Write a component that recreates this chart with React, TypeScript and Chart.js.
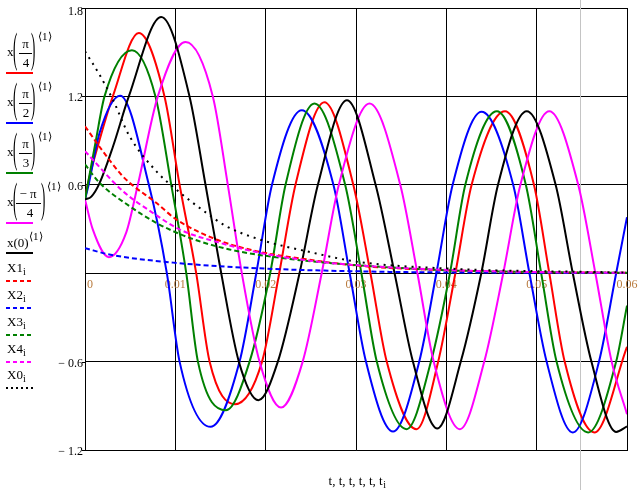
import React, { useEffect, useRef } from "react";
import { Chart, registerables } from "chart.js";
Chart.register(...registerables);

const SERIF = '"Liberation Serif", "Times New Roman", serif';
const W = 643;
const H = 490;

// ---- x(π/4)  (red, solid)
const xPi4T = [0, 0.0003, 0.0015, 0.00308, 0.00596, 0.0088, 0.01047, 0.01231, 0.01379, 0.0166, 0.0196, 0.0215, 0.0233, 0.0265, 0.0297, 0.0316, 0.0334, 0.0367, 0.0391, 0.041, 0.0428, 0.0465, 0.0497, 0.0514, 0.0531, 0.0564, 0.06];
const xPi4V = [0.5, 0.6, 0.88, 1.2, 1.63, 1.2, 0.6, 0, -0.6, -0.889, -0.6, 0, 0.6, 1.16, 0.6, 0, -0.6, -1.059, -0.6, 0, 0.6, 1.099, 0.6, 0, -0.6, -1.081, -0.5];

// ---- x(π/2)  (blue, solid)
const xPi2T = [0, 0.0004, 0.0016, 0.0039, 0.00707, 0.00906, 0.01047, 0.0139, 0.01711, 0.01896, 0.0207, 0.024, 0.0275, 0.0293, 0.0311, 0.0341, 0.037, 0.0389, 0.0407, 0.0439, 0.0474, 0.0492, 0.0511, 0.054, 0.0569, 0.0588, 0.06];
const xPi2V = [0.5, 0.6, 0.95, 1.205, 0.6, 0, -0.6, -1.043, -0.6, 0, 0.6, 1.106, 0.6, 0, -0.6, -1.075, -0.6, 0, 0.6, 1.095, 0.6, 0, -0.6, -1.081, -0.6, 0, 0.38];

// ---- x(π/3)  (green, solid)
const xPi3T = [0, 0.0003, 0.0012, 0.00216, 0.0052, 0.0078, 0.00955, 0.01121, 0.0125, 0.0156, 0.01822, 0.0205, 0.0222, 0.0254, 0.0288, 0.0306, 0.0323, 0.0356, 0.0383, 0.0404, 0.0421, 0.0456, 0.0488, 0.0505, 0.0522, 0.0557, 0.0588, 0.06];
const xPi3V = [0.5, 0.6, 0.9, 1.2, 1.513, 1.2, 0.6, 0, -0.6, -0.93, -0.6, 0, 0.6, 1.151, 0.6, 0, -0.6, -1.059, -0.6, 0, 0.6, 1.099, 0.6, 0, -0.6, -1.081, -0.6, -0.22];

// ---- x(−π/4)  (magenta, solid)
const xMPi4T = [0, 0.00086, 0.00264, 0.00456, 0.00585, 0.00806, 0.01113, 0.01415, 0.01581, 0.01736, 0.01932, 0.0217, 0.0241, 0.0262, 0.0281, 0.0315, 0.0349, 0.0368, 0.0386, 0.0415, 0.0442, 0.0463, 0.0482, 0.0514, 0.0546, 0.0565, 0.0583, 0.06];
const xMPi4V = [0.5, 0.297, 0.109, 0.275, 0.6, 1.2, 1.569, 1.2, 0.6, 0, -0.6, -0.912, -0.6, 0, 0.6, 1.151, 0.6, 0, -0.6, -1.059, -0.6, 0, 0.6, 1.099, 0.6, 0, -0.6, -0.957];

// ---- x(0)  (black, solid)
const x0T = [0, 0.0007, 0.0016, 0.0031, 0.00485, 0.00844, 0.01157, 0.01334, 0.01508, 0.01703, 0.0192, 0.02135, 0.02375, 0.02578, 0.029, 0.03217, 0.03427, 0.0363, 0.039, 0.0416, 0.04387, 0.04572, 0.0489, 0.0521, 0.054, 0.05606, 0.0588, 0.06];
const x0V = [0.5, 0.52, 0.61, 0.86, 1.2, 1.739, 1.2, 0.6, 0, -0.6, -0.862, -0.6, 0, 0.6, 1.174, 0.6, 0, -0.6, -1.054, -0.6, 0, 0.6, 1.099, 0.6, 0, -0.6, -1.077, -1.04];

// ---- decaying components
const X1T = [0, 0.00197, 0.004, 0.00493, 0.00788, 0.0101, 0.01453, 0.01896, 0.0245, 0.03076, 0.04, 0.05, 0.06];
const X1V = [0.997, 0.828, 0.67, 0.614, 0.478, 0.365, 0.229, 0.15, 0.094, 0.048, 0.02, 0.007, 0.003];
const X2T = [0, 0.0027, 0.0099, 0.0193, 0.0326, 0.045, 0.06];
const X2V = [0.17, 0.127, 0.071, 0.033, 0.01, 0.004, 0.001];
const X3T = [0, 0.0016, 0.00493, 0.00788, 0.01157, 0.016, 0.02154, 0.02893, 0.04, 0.05, 0.06];
const X3V = [0.738, 0.614, 0.455, 0.342, 0.24, 0.161, 0.105, 0.06, 0.02, 0.008, 0.003];
const X4T = [0, 0.00419, 0.0075, 0.01047, 0.01489, 0.01932, 0.02523, 0.0326, 0.042, 0.05, 0.06];
const X4V = [0.828, 0.557, 0.41, 0.297, 0.207, 0.139, 0.082, 0.044, 0.018, 0.008, 0.003];
const X0T = [0, 0.0016, 0.00308, 0.00493, 0.00806, 0.0101, 0.01342, 0.01563, 0.01932, 0.02523, 0.02966, 0.0326, 0.03704, 0.045, 0.05, 0.06];
const X0V = [1.506, 1.348, 1.178, 0.93, 0.681, 0.568, 0.41, 0.319, 0.229, 0.139, 0.082, 0.06, 0.041, 0.02, 0.014, 0.005];

// ---- ticks / labels
const xTickValues = [0, 0.01, 0.02, 0.03, 0.04, 0.05, 0.06];
const xTickLabels = ["0", "0.01", "0.02", "0.03", "0.04", "0.05", "0.06"];
const yTickValues = [1.8, 1.2, 0.6, -0.6, -1.2];
const yTickLabels = ["1.8", "1.2", "0.6", "\u2212 0.6", "\u2212 1.2"];
const xAxisTitle = "t, t, t, t, t, t";
const xAxisTitleSub = "i";

const RED = "#ff0000";
const BLUE = "#0000ff";
const GREEN = "#008000";
const MAGENTA = "#ff00ff";
const BLACK = "#000000";
const X_LABEL_COLOR = "#b87a3c";
const DASH = [5, 3];
const DOT = [2, 5];

const series = [
  { t: xPi4T, v: xPi4V, color: RED, dash: [] as number[] },
  { t: xPi2T, v: xPi2V, color: BLUE, dash: [] as number[] },
  { t: xPi3T, v: xPi3V, color: GREEN, dash: [] as number[] },
  { t: xMPi4T, v: xMPi4V, color: MAGENTA, dash: [] as number[] },
  { t: x0T, v: x0V, color: BLACK, dash: [] as number[] },
  { t: X1T, v: X1V, color: RED, dash: DASH },
  { t: X2T, v: X2V, color: BLUE, dash: DASH },
  { t: X3T, v: X3V, color: GREEN, dash: DASH },
  { t: X4T, v: X4V, color: MAGENTA, dash: DASH },
  { t: X0T, v: X0V, color: BLACK, dash: DOT },
];

const decor = {
  id: "decor",
  beforeDatasetsDraw(chart: any) {
    const { ctx, scales, chartArea } = chart;
    const xs = scales.x;
    const ys = scales.y;
    ctx.save();
    // cursor line
    ctx.strokeStyle = "#c4c4c4";
    ctx.lineWidth = 1;
    ctx.beginPath();
    ctx.moveTo(580.5, 0);
    ctx.lineTo(580.5, H);
    ctx.stroke();
    // y small ticks
    ctx.strokeStyle = "#000";
    const left = chartArea.left;
    ctx.beginPath();
    yTickValues.forEach((v) => {
      const py = Math.round(ys.getPixelForValue(v)) + 0.5;
      ctx.moveTo(left - 3, py);
      ctx.lineTo(left, py);
    });
    ctx.stroke();
    // y labels
    ctx.font = `12px ${SERIF}`;
    ctx.fillStyle = "#000";
    ctx.textAlign = "right";
    ctx.textBaseline = "alphabetic";
    yTickValues.forEach((v, i) => {
      let py = ys.getPixelForValue(v);
      if (i === 0) py += 2;
      ctx.fillText(yTickLabels[i], left - 2, py + 5);
    });
    // x labels
    ctx.fillStyle = X_LABEL_COLOR;
    ctx.textAlign = "center";
    const y0 = ys.getPixelForValue(0);
    xTickValues.forEach((v, i) => {
      let px = xs.getPixelForValue(v);
      if (i === 0) px += 5;
      ctx.fillText(xTickLabels[i], px, y0 + 15);
    });
    // axis title
    ctx.fillStyle = "#000";
    ctx.font = `13px ${SERIF}`;
    const w1 = ctx.measureText(xAxisTitle).width;
    ctx.font = `10px ${SERIF}`;
    const w2 = ctx.measureText(xAxisTitleSub).width;
    const startX = 357 - (w1 + w2) / 2;
    ctx.textAlign = "left";
    ctx.font = `13px ${SERIF}`;
    ctx.fillText(xAxisTitle, startX, 485);
    ctx.font = `10px ${SERIF}`;
    ctx.fillText(xAxisTitleSub, startX + w1 + 0.5, 488);
    ctx.restore();
  },
};

function Txt(props: { x: number; base: number; fs: number; s: string; center?: boolean }) {
  const { x, base, fs, s, center } = props;
  return (
    <div
      style={{
        position: "absolute",
        left: x,
        top: base - 0.8375 * fs,
        fontSize: fs,
        lineHeight: fs + "px",
        fontFamily: SERIF,
        whiteSpace: "nowrap",
        color: "#000",
        transform: center ? "translateX(-50%)" : undefined,
      }}
    >
      {s}
    </div>
  );
}

function Paren(props: { x: number; cy: number; ch: string }) {
  return (
    <div
      style={{
        position: "absolute",
        left: props.x,
        top: props.cy - 7.7,
        fontSize: 13,
        lineHeight: "13px",
        fontFamily: SERIF,
        color: "#000",
        transform: "scaleY(3.3)",
        transformOrigin: "50% 7.7px",
      }}
    >
      {props.ch}
    </div>
  );
}

function LegLine(props: { L: number; color: string; dash?: string }) {
  return (
    <svg style={{ position: "absolute", left: 6, top: props.L - 2 }} width={27} height={4}>
      <line x1={0} y1={2} x2={27} y2={2} stroke={props.color} strokeWidth={2} strokeDasharray={props.dash} />
    </svg>
  );
}

const fracItems = [
  { L: 73, num: "\u03c0", den: "4", color: RED, wide: false },
  { L: 123, num: "\u03c0", den: "2", color: BLUE, wide: false },
  { L: 173, num: "\u03c0", den: "3", color: GREEN, wide: false },
  { L: 223, num: "\u2212 \u03c0", den: "4", color: MAGENTA, wide: true },
];

const subItems = [
  { L: 281, name: "X1", color: RED, dash: "4 3" },
  { L: 308, name: "X2", color: BLUE, dash: "4 3" },
  { L: 335, name: "X3", color: GREEN, dash: "4 3" },
  { L: 362, name: "X4", color: MAGENTA, dash: "4 3" },
  { L: 388, name: "X0", color: BLACK, dash: "2 3" },
];

function Legend() {
  return (
    <>
      {fracItems.map((it, k) => {
        const L = it.L;
        const w = it.wide;
        return (
          <React.Fragment key={k}>
            <Txt x={7} base={L - 17} fs={13} s="x" />
            <Paren x={13} cy={L - 22} ch="(" />
            <Txt x={w ? 28 : 25.5} base={L - 25} fs={13} s={it.num} center />
            <div style={{ position: "absolute", left: w ? 16 : 19, top: L - 20, width: w ? 25 : 13, height: 1, background: "#000" }} />
            <Txt x={w ? 30 : 26} base={L - 6} fs={13} s={it.den} center />
            <Paren x={w ? 41 : 31} cy={L - 22} ch=")" />
            <Txt x={w ? 47 : 38} base={L - 33} fs={11} s={"\u27e81\u27e9"} />
            <LegLine L={L} color={it.color} />
          </React.Fragment>
        );
      })}
      <Txt x={7} base={247} fs={13} s="x(0)" />
      <Txt x={29} base={240} fs={11} s={"\u27e81\u27e9"} />
      <LegLine L={253} color={BLACK} />
      {subItems.map((it, k) => (
        <React.Fragment key={"s" + k}>
          <Txt x={7} base={it.L - 9} fs={13} s={it.name} />
          <Txt x={23} base={it.L - 6} fs={10} s="i" />
          <LegLine L={it.L} color={it.color} dash={it.dash} />
        </React.Fragment>
      ))}
    </>
  );
}

export default function App() {
  const ref = useRef<HTMLCanvasElement | null>(null);
  useEffect(() => {
    if (!ref.current) return;
    const datasets = series.map((s, i) => ({
      data: s.t.map((t, j) => ({ x: t, y: s.v[j] })),
      borderColor: s.color,
      backgroundColor: s.color,
      borderWidth: 2,
      borderDash: s.dash,
      pointRadius: 0,
      fill: false,
      cubicInterpolationMode: "monotone" as const,
      order: 20 - i,
    }));
    const chart = new Chart(ref.current, {
      type: "line",
      data: { datasets },
      options: {
        responsive: false,
        animation: false,
        devicePixelRatio: 1,
        layout: { padding: { left: 85, top: 8, right: 16, bottom: 40 } },
        plugins: { legend: { display: false }, tooltip: { enabled: false }, title: { display: false } },
        scales: {
          x: {
            type: "linear",
            min: 0,
            max: 0.06,
            ticks: { display: false, stepSize: 0.01 },
            grid: { color: "#000", lineWidth: 1, drawTicks: false },
            border: { display: true, color: "#000", width: 1 },
          },
          y: {
            type: "linear",
            min: -1.2,
            max: 1.8,
            ticks: { display: false, stepSize: 0.6 },
            grid: { color: "#000", lineWidth: 1, drawTicks: false },
            border: { display: true, color: "#000", width: 1 },
          },
        },
      },
      plugins: [decor],
    });
    return () => chart.destroy();
  }, []);
  return (
    <div style={{ position: "absolute", left: 0, top: 0, width: W, height: H, background: "#fff" }}>
      <canvas ref={ref} width={W} height={H} style={{ width: W, height: H, display: "block" }} />
      <Legend />
    </div>
  );
}
